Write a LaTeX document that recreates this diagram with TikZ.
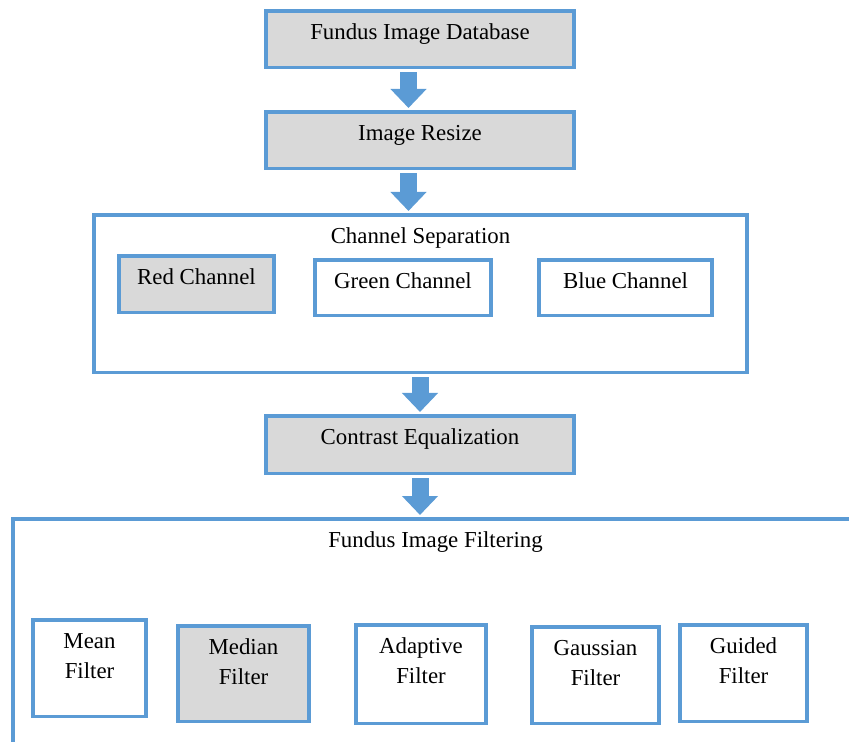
\documentclass[tikz,border=0pt]{standalone}
\usepackage{fontspec}
\setmainfont{Liberation Serif}
\usetikzlibrary{arrows.meta, positioning}
\definecolor{boxblue}{HTML}{5B9BD5}
\definecolor{boxgray}{HTML}{D9D9D9}

\begin{document}
\begin{tikzpicture}[
        x=0.02cm, y=-0.02cm,
        font=\fontsize{13}{17}\selectfont,
        every node/.style={anchor=north, inner ysep=0pt, text height=0.58cm, align=center},
        box/.style={draw=boxblue, line width=2pt, fill=white},
        greybox/.style={box, fill=boxgray},
        twoline/.style={text height=1.18cm},
        flow/.style={boxblue, line width=0.34cm, shorten <=0.06cm, shorten >=0.04cm,
            -{Triangle[width=0.7cm, length=0.38cm]}},
        ]
        \useasboundingbox (0,0) rectangle (849,742);
        \clip (0,0) rectangle (849,742);

        \node[greybox, minimum width=6.16cm, text depth=0.56cm] (db) at (420,9) {Fundus Image Database};
        \node[greybox, minimum width=6.16cm, text depth=0.56cm] (rs) at (420,110) {Image Resize};

        \node[box, minimum width=13.06cm, text depth=2.58cm] (chsep) at (420.5,213) {Channel Separation};
        \node[greybox, minimum width=3.1cm, text depth=0.56cm] (red) at (196.5,254) {Red Channel};
        \node[box, minimum width=3.52cm, text depth=0.54cm] (green) at (403,258) {Green Channel};
        \node[box, minimum width=3.46cm, text depth=0.54cm] (blue) at (625.5,258) {Blue Channel};

        \node[greybox, minimum width=6.16cm, text depth=0.58cm] (ce) at (420,414) {Contrast Equalization};

        \node[box, minimum width=16.9cm, text depth=4.28cm] (filt) at (435.5,517) {Fundus Image Filtering};
        \node[box, twoline, minimum width=2.26cm, text depth=0.76cm] (mean) at (89.5,618) {Mean\\Filter};
        \node[greybox, twoline, minimum width=2.62cm, text depth=0.74cm] (median) at (243.5,624) {Median\\Filter};
        \node[box, twoline, minimum width=2.6cm, text depth=0.8cm] (adapt) at (421,623) {Adaptive\\Filter};
        \node[box, twoline, minimum width=2.54cm, text depth=0.76cm] (gauss) at (595.5,625) {Gaussian\\Filter};
        \node[box, twoline, minimum width=2.54cm, text depth=0.76cm] (guided) at (743.5,623) {Guided\\Filter};

        % block arrows between the stages
        \draw[flow] ([xshift=-0.23cm]db.south) -- ([xshift=-0.23cm]rs.north);
        \draw[flow] ([xshift=-0.23cm]rs.south) -- ([xshift=-0.23cm]rs.south |- chsep.north);
        \draw[flow] (chsep.south -| ce.north) -- (ce.north);
        \draw[flow] (ce.south) -- (ce.south |- filt.north);
\end{tikzpicture}
\end{document}
